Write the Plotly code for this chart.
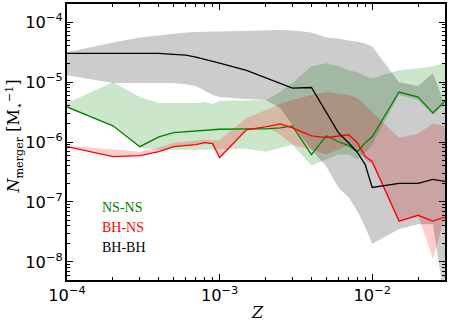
import numpy as np
import plotly.graph_objects as go

# metallicity grid
Z = [1e-4, 2e-4, 3e-4, 4e-4, 5e-4, 6e-4, 7e-4, 8e-4, 9e-4, 1e-3,
     1.5e-3, 2e-3, 2.5e-3, 3e-3, 4e-3, 5e-3, 6e-3, 7e-3, 8e-3, 9e-3,
     1e-2, 1.5e-2, 2e-2, 2.5e-2, 3e-2]

# BH-BH
bhbh = [3.0e-5, 3.0e-5, 3.0e-5, 3.0e-5, 2.9e-5, 2.8e-5, 2.6e-5, 2.4e-5, 2.2e-5, 2.06e-5,
        1.57e-5, 1.18e-5, 9.2e-6, 7.9e-6, 8.1e-6, 3.06e-6, 1.43e-6, 9.7e-7, 6.7e-7, 4.2e-7,
        1.75e-7, 2.04e-7, 2.04e-7, 2.38e-7, 2.2e-7]
bhbh_hi = [3.13e-5, 4.58e-5, 5.54e-5, 5.97e-5, 6.45e-5, 6.7e-5, 6.83e-5, 6.96e-5, 6.96e-5, 6.96e-5,
           7.23e-5, 7.23e-5, 7.37e-5, 7.23e-5, 6.7e-5, 5.54e-5, 5.33e-5, 4.94e-5, 4.76e-5, 4.41e-5,
           3.93e-5, 9.96e-6, 8.55e-6, 1.4e-5, 4.15e-6]
bhbh_lo = [1.3e-5, 9.6e-6, 9.6e-6, 9.6e-6, 9.6e-6, 9.2e-6, 8.55e-6, 7.07e-6, 6.07e-6, 5.62e-6,
           5.21e-6, 5.01e-6, 3.7e-6, 1.93e-6, 7.46e-7, 3.9e-7, 1.75e-7, 1.2e-7, 7.0e-8, 3.81e-8,
           2.0e-8, 3.53e-8, 4.27e-8, 4.27e-8, 2e-9]

# NS-NS
nsns = [3.84e-6, 1.86e-6, 8.36e-7, 1.22e-6, 1.43e-6, 1.48e-6, 1.54e-6, 1.6e-6, 1.6e-6, 1.63e-6,
        1.66e-6, 1.66e-6, 1.72e-6, 1.86e-6, 6.16e-7, 1.27e-6, 1.01e-6, 8.68e-7, 6.91e-7, 9.74e-7,
        1.22e-6, 6.81e-6, 5.62e-6, 3.06e-6, 4.83e-6]
nsns_hi = [4.48e-6, 9.96e-6, 5.62e-6, 4.48e-6, 4.48e-6, 4.48e-6, 4.48e-6, 4.65e-6, 4.31e-6, 4.83e-6,
           5.01e-6, 5.01e-6, 6.81e-6, 9.6e-6, 1.83e-5, 2.06e-5, 1.83e-5, 1.57e-5, 1.46e-5, 1.25e-5,
           1.16e-5, 1.57e-5, 1.7e-5, 1.83e-5, 2.06e-5]
nsns_lo = [3.84e-6, 1.86e-6, 8.05e-7, 7.46e-7, 7.46e-7, 7.46e-7, 7.46e-7, 7.46e-7, 7.46e-7, 7.46e-7,
           7.75e-7, 6.91e-7, 8.05e-7, 9.02e-7, 4.05e-7, 5.09e-7, 6.16e-7, 6.16e-7, 5.09e-7, 6.65e-7,
           9.02e-7, 6.07e-6, 5.01e-6, 2.83e-6, 4.31e-6]

# BH-NS
bhns = [8.36e-7, 5.71e-7, 5.93e-7, 6.91e-7, 8.36e-7, 8.68e-7, 9.02e-7, 9.74e-7, 9.37e-7, 5.5e-7,
        1.6e-6, 1.79e-6, 2.01e-6, 1.72e-6, 1.27e-6, 1.18e-6, 1.27e-6, 1.32e-6, 9.74e-7, 5.71e-7,
        4.72e-7, 4.8e-8, 6.0e-8, 4.8e-8, 5.6e-8]
bhns_hi = [8.68e-7, 7.46e-7, 6.91e-7, 8.05e-7, 9.74e-7, 1.01e-6, 1.05e-6, 1.09e-6, 1.05e-6, 1.09e-6,
           2.52e-6, 3.43e-6, 4.31e-6, 5.01e-6, 6.07e-6, 6.81e-6, 6.5e-6, 6.07e-6, 5.41e-6, 4.15e-6,
           3.18e-6, 1.18e-6, 1.37e-6, 2.01e-6, 1.86e-6]
bhns_lo = [8.36e-7, 5.71e-7, 5.93e-7, 6.91e-7, 8.36e-7, 8.68e-7, 9.02e-7, 9.74e-7, 9.37e-7, 5.5e-7,
           1.6e-6, 1.79e-6, 1.32e-6, 9.02e-7, 7.46e-7, 6.16e-7, 7.46e-7, 9.02e-7, 7.46e-7, 5.09e-7,
           4.21e-7, 4.8e-8, 6.0e-8, 1.12e-8, 5.6e-8]

series = [
    ("NS-NS", nsns, nsns_lo, nsns_hi, "rgb(0,128,0)", "rgba(0,128,0,0.2)"),
    ("BH-NS", bhns, bhns_lo, bhns_hi, "rgb(255,0,0)", "rgba(255,0,0,0.2)"),
    ("BH-BH", bhbh, bhbh_lo, bhbh_hi, "rgb(0,0,0)", "rgba(0,0,0,0.2)"),
]

fig = go.Figure()

# shaded ranges
for name, mid, lo, hi, col, fcol in series:
    fig.add_trace(go.Scatter(
        x=Z + Z[::-1], y=hi + lo[::-1],
        fill="toself", fillcolor=fcol, line=dict(width=0),
        mode="lines", hoverinfo="skip", showlegend=False))

# median lines
for name, mid, lo, hi, col, fcol in series:
    fig.add_trace(go.Scatter(
        x=Z, y=mid, mode="lines", name=name,
        line=dict(color=col, width=1.3), showlegend=False))

# text-only legend
for i, (name, mid, lo, hi, col, fcol) in enumerate(series):
    fig.add_annotation(
        x=0.088, y=0.262 - i * 0.0725, xref="paper", yref="paper",
        text=name, showarrow=False, xanchor="left", yanchor="middle",
        font=dict(family="Liberation Serif", size=14, color=col))

# axis titles
fig.add_annotation(x=0.503, y=-0.116, xref="paper", yref="paper",
                   text="<i>Z</i>", showarrow=False, xanchor="center", yanchor="middle",
                   font=dict(family="DejaVu Serif", size=16, color="black"))
fig.add_annotation(x=-0.14, y=0.52, xref="paper", yref="paper", textangle=-90,
                   text="<i>N</i><sub>merger</sub> [M<sub>⋆</sub><sup>−1</sup>]",
                   showarrow=False, xanchor="center", yanchor="middle",
                   font=dict(family="DejaVu Serif", size=16, color="black"))

axis_style = dict(
    type="log", showline=True, linecolor="black", linewidth=1.5, mirror="allticks",
    ticks="inside", ticklen=6, tickwidth=1, tickcolor="black",
    showgrid=False, zeroline=False, dtick=1, exponentformat="power", automargin=False,
    tickfont=dict(family="DejaVu Sans", size=13, color="black"),
    minor=dict(ticks="inside", ticklen=3, tickwidth=1, tickcolor="black",
               dtick="D1", showgrid=False),
)

fig.update_xaxes(**axis_style, range=[np.log10(1e-4), np.log10(3e-2)])
fig.update_yaxes(**axis_style, range=[np.log10(5e-9), np.log10(2e-4)])

fig.update_layout(
    width=450, height=330,
    margin=dict(l=67, r=5, t=4, b=50),
    plot_bgcolor="white", paper_bgcolor="white",
    showlegend=False,
)

fig.write_html("out.html", config={"displayModeBar": False},
               post_script="document.body.style.margin='0';document.body.style.overflow='hidden';")
